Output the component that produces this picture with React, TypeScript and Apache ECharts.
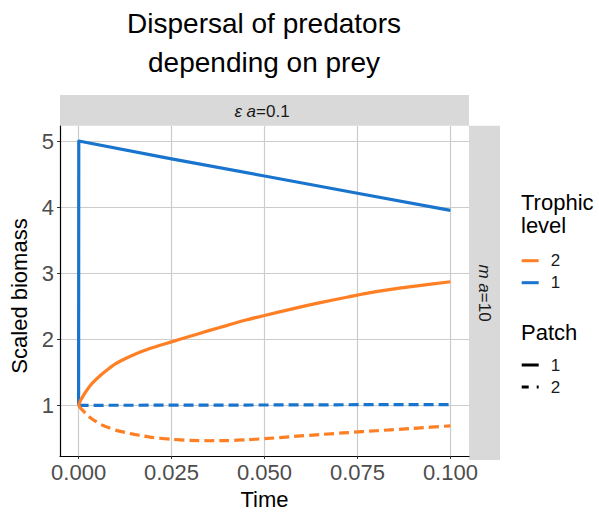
import { useEffect, useRef } from "react";
import * as echarts from "echarts";

const xTicks = [0, 0.025, 0.05, 0.075, 0.1];
const yTicks = [1, 2, 3, 4, 5];

const preyTime = [0, 0.00005, 0.025, 0.05, 0.075, 0.1];
const preyPatch1 = [1, 5, 4.73, 4.47, 4.21, 3.95];
const preyTime2 = [0, 0.025, 0.05, 0.075, 0.1];
const preyPatch2 = [1, 1.002, 1.005, 1.009, 1.012];

const predTime = [0, 0.0005, 0.001, 0.002, 0.003, 0.0045, 0.006, 0.008, 0.01, 0.0125, 0.015, 0.0175, 0.02, 0.025, 0.03, 0.035, 0.04, 0.045, 0.05, 0.0575, 0.065, 0.0725, 0.08, 0.09, 0.1];
const predPatch1 = [1, 1.07, 1.12, 1.21, 1.29, 1.38, 1.46, 1.55, 1.63, 1.705, 1.77, 1.825, 1.875, 1.96, 2.045, 2.13, 2.21, 2.29, 2.36, 2.46, 2.555, 2.64, 2.72, 2.8, 2.87];
const predPatch2 = [1, 0.96, 0.93, 0.87, 0.82, 0.76, 0.71, 0.665, 0.625, 0.59, 0.56, 0.535, 0.513, 0.485, 0.47, 0.464, 0.467, 0.478, 0.495, 0.527, 0.558, 0.588, 0.615, 0.65, 0.69];

const legendLevels = ["2", "1"];
const legendPatches = ["1", "2"];

const ORANGE = "#FF7F24";
const BLUE = "#1874CD";
const FONT = "'Liberation Sans', Arial, Helvetica, sans-serif";

const zip = (t: number[], v: number[]) => t.map((x, i) => [x, v[i]]);

export default function App() {
  const ref = useRef<HTMLDivElement>(null);
  useEffect(() => {
    if (!ref.current) return;
    document.body.style.margin = "0";
    const chart = echarts.init(ref.current, undefined, { renderer: "svg" });
    const nameMap: Record<string, string> = {
      L2: legendLevels[0],
      L1: legendLevels[1],
      P1: legendPatches[0],
      P2: legendPatches[1],
    };
    const lineSeries = (name: string, data: number[][], color: string, dashed: boolean, smooth: number | boolean) => ({
      name,
      type: "line",
      data,
      showSymbol: false,
      symbol: "none",
      smooth,
      color,
      lineStyle: { color, width: 3.2, type: dashed ? [10, 5] : "solid", cap: "butt", join: "round" },
      z: 3,
      silent: true,
    });
    const dummy = (name: string, color: string) => ({
      name,
      type: "line",
      data: [],
      color,
      symbol: "none",
      lineStyle: { color },
    });
    const stripRich = {
      i: { fontStyle: "italic", fontSize: 17, fontFamily: FONT, fill: "#1A1A1A" },
      n: { fontSize: 17, fontFamily: FONT, fill: "#1A1A1A" },
    };
    const legendText = { fontSize: 17, color: "#1A1A1A", lineHeight: 17, padding: [0, 0, 0, 7], fontFamily: FONT };
    chart.setOption({
      animation: false,
      backgroundColor: "#ffffff",
      textStyle: { fontFamily: FONT },
      grid: { left: 60, top: 126, right: 130, bottom: 55, containLabel: false },
      xAxis: {
        type: "value",
        min: -0.005,
        max: 0.105,
        name: "Time",
        nameLocation: "middle",
        nameGap: 32,
        nameTextStyle: { fontSize: 22, color: "#000", fontFamily: FONT },
        axisLine: { show: true, onZero: false, lineStyle: { color: "#000", width: 1.2 } },
        axisTick: { show: true, length: 3, customValues: xTicks, lineStyle: { color: "#333" } },
        axisLabel: {
          customValues: xTicks,
          fontSize: 22,
          color: "#4D4D4D",
          margin: 5,
          fontFamily: FONT,
          formatter: (v: number) => v.toFixed(3),
        },
        splitLine: { show: true, lineStyle: { color: "#CCCCCC", width: 1.2 } },
      },
      yAxis: {
        type: "value",
        min: 0.233,
        max: 5.227,
        name: "Scaled biomass",
        nameLocation: "middle",
        nameGap: 24,
        nameTextStyle: { fontSize: 22, color: "#000", fontFamily: FONT, padding: [0, 10, 0, 0] },
        axisLine: { show: true, onZero: false, lineStyle: { color: "#000", width: 1.2 } },
        axisTick: { show: true, length: 3, customValues: yTicks, lineStyle: { color: "#333" } },
        axisLabel: {
          customValues: yTicks,
          fontSize: 22,
          color: "#4D4D4D",
          margin: 6,
          fontFamily: FONT,
          formatter: (v: number) => String(v),
        },
        splitLine: { show: true, lineStyle: { color: "#CCCCCC", width: 1.2 } },
      },
      legend: [
        {
          orient: "vertical",
          left: 521.7,
          top: 252.2,
          padding: 0,
          itemWidth: 17,
          itemHeight: 3,
          itemGap: 5,
          selectedMode: false,
          data: [
            { name: "L2", icon: "rect" },
            { name: "L1", icon: "rect" },
          ],
          formatter: (n: string) => nameMap[n],
          textStyle: legendText,
        },
        {
          orient: "vertical",
          left: 521.7,
          top: 356.5,
          padding: 0,
          itemWidth: 17,
          itemHeight: 3,
          itemGap: 5,
          selectedMode: false,
          data: [
            { name: "P1", icon: "rect" },
            { name: "P2", icon: "path://M0,0H7V3H0Z M15,0H17V3H15Z" },
          ],
          formatter: (n: string) => nameMap[n],
          textStyle: legendText,
        },
      ],
      graphic: [
        {
          type: "text",
          x: 264,
          y: 4,
          style: {
            text: "Dispersal of predators\ndepending on prey",
            font: `28px ${FONT}`,
            fill: "#000",
            align: "center",
            verticalAlign: "top",
            lineHeight: 39,
          },
        },
        {
          type: "rect",
          shape: { x: 60, y: 95, width: 409, height: 30.7 },
          style: { fill: "#D9D9D9" },
          z: -1,
        },
        {
          type: "rect",
          shape: { x: 469, y: 125.7, width: 31, height: 334.3 },
          style: { fill: "#D9D9D9" },
          z: -1,
        },
        {
          type: "text",
          x: 262,
          y: 111,
          style: {
            text: "{i|ε a}{n|=0.1}",
            align: "center",
            verticalAlign: "middle",
            rich: stripRich,
          },
        },
        {
          type: "text",
          x: 484.5,
          y: 293,
          rotation: -Math.PI / 2,
          style: {
            text: "{i|m a}{n|=10}",
            align: "center",
            verticalAlign: "middle",
            rich: stripRich,
          },
        },
        {
          type: "text",
          x: 521,
          y: 191,
          style: {
            text: "Trophic\nlevel",
            font: `22px ${FONT}`,
            fill: "#000",
            align: "left",
            verticalAlign: "top",
            lineHeight: 23,
          },
        },
        {
          type: "text",
          x: 521,
          y: 321,
          style: {
            text: "Patch",
            font: `22px ${FONT}`,
            fill: "#000",
            align: "left",
            verticalAlign: "top",
            lineHeight: 23,
          },
        },
      ],
      series: [
        dummy("L2", ORANGE),
        dummy("L1", BLUE),
        dummy("P1", "#000"),
        dummy("P2", "#000"),
        lineSeries("prey-p1", zip(preyTime, preyPatch1), BLUE, false, false),
        lineSeries("prey-p2", zip(preyTime2, preyPatch2), BLUE, true, false),
        lineSeries("pred-p1", zip(predTime, predPatch1), ORANGE, false, 0.2),
        lineSeries("pred-p2", zip(predTime, predPatch2), ORANGE, true, 0.2),
      ],
    });
    return () => chart.dispose();
  }, []);
  return <div ref={ref} style={{ width: 599, height: 515 }} />;
}
